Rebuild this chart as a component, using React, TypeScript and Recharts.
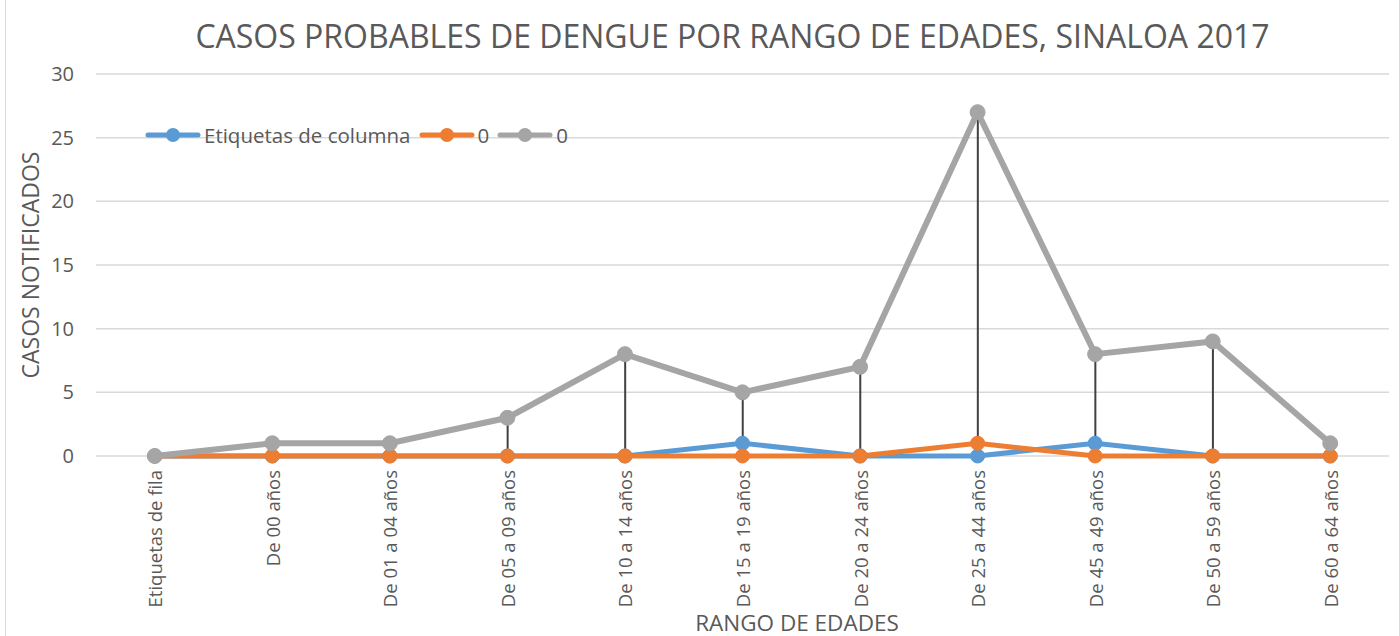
import React from 'react';
import { ComposedChart, Line, Bar, XAxis, YAxis, CartesianGrid, Label } from 'recharts';

const categories = [
  'Etiquetas de fila', 'De 00 años', 'De 01 a 04 años', 'De 05 a 09 años', 'De 10 a 14 años',
  'De 15 a 19 años', 'De 20 a 24 años', 'De 25 a 44 años', 'De 45 a 49 años', 'De 50 a 59 años', 'De 60 a 64 años',
];
const blueValues = [0, 0, 0, 0, 0, 1, 0, 0, 1, 0, 0];
const orangeValues = [0, 0, 0, 0, 0, 0, 0, 1, 0, 0, 0];
const grayValues = [0, 1, 1, 3, 8, 5, 7, 27, 8, 9, 1];
const yTicks = [0, 5, 10, 15, 20, 25, 30];

const seriesNames = ['Etiquetas de columna', '0', '0'];
const colors = ['#5B9BD5', '#ED7D31', '#A5A5A5'];

const data = categories.map((c, i) => ({
  cat: c,
  a: blueValues[i],
  b: orangeValues[i],
  c: grayValues[i],
}));

const FONT = '"Open Sans", sans-serif';
const TXT = '#595959';

const XTick = (props: any) => {
  const { x, y, payload } = props;
  return (
    <text x={x} y={y} transform={`rotate(-90, ${x}, ${y})`} textAnchor="end" dominantBaseline="central"
      fill={TXT} fontSize={18.5} fontFamily={FONT}>
      {payload.value}
    </text>
  );
};

const LegendBox = () => (
  <div style={{
    position: 'absolute', left: 145, top: 122, display: 'flex', alignItems: 'center',
    fontFamily: FONT, fontSize: 20.5, color: TXT, whiteSpace: 'nowrap', height: 26,
  }}>
    {seriesNames.map((n, i) => (
      <div key={i} style={{ display: 'flex', alignItems: 'center', marginRight: 8 }}>
        <svg width={56} height={18}>
          <line x1={3} y1={9} x2={53} y2={9} stroke={colors[i]} strokeWidth={5} strokeLinecap="round" />
          <circle cx={28} cy={9} r={7} fill={colors[i]} />
        </svg>
        <span style={{ marginLeft: 3 }}>{n}</span>
      </div>
    ))}
  </div>
);

export default function App() {
  return (
    <div style={{ position: 'absolute', left: 0, top: 0, width: 1400, height: 636, background: '#fff', overflow: 'hidden' }}>
      <div style={{ position: 'absolute', left: 5, top: -2, width: 1393, height: 700, border: '1px solid #d9d9d9' }} />
      <div style={{
        position: 'absolute', left: 0, width: 1465, top: 14, textAlign: 'center',
        fontFamily: FONT, fontSize: 32, color: TXT, whiteSpace: 'nowrap', lineHeight: '44px',
      }}>
        CASOS PROBABLES DE DENGUE POR RANGO DE EDADES, SINALOA 2017
      </div>
      <div style={{ position: 'absolute', left: 0, top: 0 }}>
        <ComposedChart width={1400} height={636} data={data}
          margin={{ top: 74, right: 11, bottom: 0, left: 0 }}>
          <CartesianGrid vertical={false} stroke="#d9d9d9" strokeWidth={1.5} />
          <XAxis dataKey="cat" axisLine={false} tickLine={false} interval={0} height={180}
            tick={<XTick />} tickSize={0} tickMargin={14}>
            <Label content={() => (
              <text x={797} y={622} textAnchor="middle" dominantBaseline="central" fill={TXT} fontSize={22.5} fontFamily={FONT}>
                RANGO DE EDADES
              </text>
            )} />
          </XAxis>
          <YAxis domain={[0, 30]} ticks={yTicks} width={96} axisLine={false} tickLine={false}
            tickSize={20} tickMargin={2} interval={0}
            tick={{ fill: TXT, fontSize: 20, fontFamily: FONT }}>
            <Label content={() => (
              <text x={30} y={265} transform="rotate(-90, 30, 265)" textAnchor="middle" dominantBaseline="central"
                fill={TXT} fontSize={23} fontFamily={FONT}>
                CASOS NOTIFICADOS
              </text>
            )} />
          </YAxis>
          <Line dataKey="a" name={seriesNames[0]} stroke={colors[0]} strokeWidth={5} isAnimationActive={false}
            dot={{ r: 7, fill: colors[0], stroke: colors[0], strokeWidth: 1 }} activeDot={false} />
          <Line dataKey="b" name={seriesNames[1]} stroke={colors[1]} strokeWidth={5} isAnimationActive={false}
            dot={{ r: 7, fill: colors[1], stroke: colors[1], strokeWidth: 1 }} activeDot={false} />
          <Line dataKey="c" name={seriesNames[2]} stroke={colors[2]} strokeWidth={6} isAnimationActive={false}
            dot={{ r: 7.5, fill: colors[2], stroke: colors[2], strokeWidth: 1 }} activeDot={false} />
          <Bar dataKey="c" fill="#404040" barSize={2} isAnimationActive={false} />
        </ComposedChart>
      </div>
      <LegendBox />
    </div>
  );
}
